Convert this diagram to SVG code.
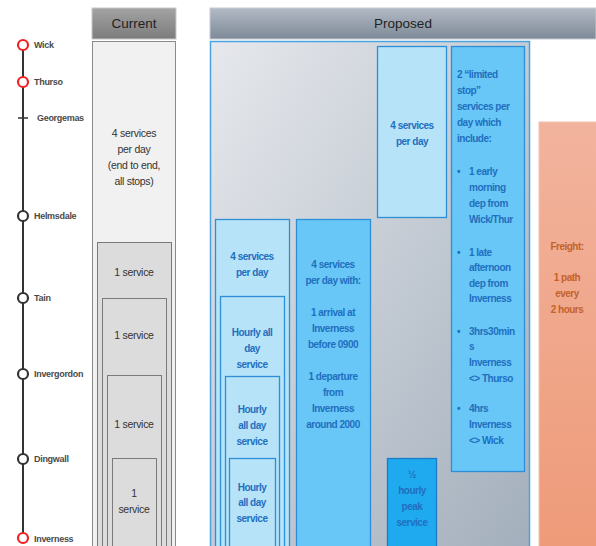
<svg xmlns="http://www.w3.org/2000/svg" width="596" height="546" viewBox="0 0 596 546">
<defs>
<linearGradient id="hdrCur" x1="0" y1="0" x2="0" y2="1"><stop offset="0" stop-color="#a3a3a3"/><stop offset="1" stop-color="#7c7c7c"/></linearGradient>
<linearGradient id="hdrProp" x1="0" y1="0" x2="0" y2="1"><stop offset="0" stop-color="#b2bac4"/><stop offset="1" stop-color="#7e8a98"/></linearGradient>
<linearGradient id="propBg" x1="0" y1="0" x2="1" y2="1"><stop offset="0" stop-color="#e6e8ec"/><stop offset="1" stop-color="#a3afbc"/></linearGradient>
<linearGradient id="freight" x1="0" y1="0" x2="0" y2="1"><stop offset="0" stop-color="#f2b39d"/><stop offset="1" stop-color="#ee9b79"/></linearGradient>
<style>
.st{font-family:"Liberation Sans",Arial,sans-serif;font-size:9px;font-weight:bold;fill:#4a4a4a;letter-spacing:-0.3px}
.hd{font-family:"Liberation Sans",Arial,sans-serif;font-size:13.5px;fill:#222;text-anchor:middle}
.ct{font-family:"Liberation Sans",Arial,sans-serif;font-size:10.5px;fill:#333;text-anchor:middle;letter-spacing:-0.3px}
.bt{font-family:"Liberation Sans",Arial,sans-serif;font-size:10px;font-weight:bold;fill:#1f6fbf;text-anchor:middle;letter-spacing:-0.5px}
.bl{font-family:"Liberation Sans",Arial,sans-serif;font-size:10px;font-weight:bold;fill:#1f6fbf;letter-spacing:-0.5px}
.ft{font-family:"Liberation Sans",Arial,sans-serif;font-size:10px;font-weight:bold;fill:#c4622c;text-anchor:middle;letter-spacing:-0.5px}
.cbox{fill:#dcdcdc;stroke:#7a7a7a;stroke-width:1}
.lb{fill:#b6e3f8;stroke:#2f8fd6;stroke-width:1.3}
.mb{fill:#68c7f6;stroke:#2f8fd6;stroke-width:1.3}
.red{fill:#fff;stroke:#ee2222;stroke-width:2.2}
.blk{fill:#fff;stroke:#333;stroke-width:2.2}
</style>
</defs>
<rect width="596" height="546" fill="#fff"/>

<g id="line">
<line x1="23" y1="45" x2="23" y2="540" stroke="#333" stroke-width="2"/>
</g>
<g id="stations">
<g id="wick"><circle cx="23" cy="45" r="5" class="red"/><text x="34" y="48" class="st">Wick</text></g>
<g id="thurso"><circle cx="23" cy="82" r="5" class="red"/><text x="34" y="85" class="st">Thurso</text></g>
<g id="georgemas"><line x1="18" y1="118" x2="28" y2="118" stroke="#333" stroke-width="1.5"/><text x="37" y="121" class="st">Georgemas</text></g>
<g id="helmsdale"><circle cx="23" cy="216" r="5" class="blk"/><text x="34" y="219" class="st">Helmsdale</text></g>
<g id="tain"><circle cx="23" cy="298" r="5" class="blk"/><text x="34" y="301" class="st">Tain</text></g>
<g id="invergordon"><circle cx="23" cy="374" r="5" class="blk"/><text x="34" y="377" class="st">Invergordon</text></g>
<g id="dingwall"><circle cx="23" cy="459" r="5" class="blk"/><text x="34" y="462" class="st">Dingwall</text></g>
<g id="inverness"><circle cx="23" cy="538" r="5" class="red"/><text x="34" y="542" class="st">Inverness</text></g>
</g>

<g id="current-header"><rect x="92" y="8" width="84" height="31" fill="url(#hdrCur)" stroke="#c8c8c8" stroke-width="1"/><text x="134" y="28" class="hd">Current</text></g>
<g id="current-all"><rect x="92.5" y="41.5" width="83" height="506" fill="#f1f1f1" stroke="#8a8a8a" stroke-width="1"/>
<text class="ct" x="134" y="137">4 services</text><text class="ct" x="134" y="153">per day</text><text class="ct" x="134" y="169">(end to end,</text><text class="ct" x="134" y="185">all stops)</text></g>
<g id="current-1"><rect x="97.5" y="242.5" width="74" height="305" class="cbox"/><text class="ct" x="134" y="276">1 service</text></g>
<g id="current-2"><rect x="102.5" y="298.5" width="64" height="249" class="cbox"/><text class="ct" x="134" y="339">1 service</text></g>
<g id="current-3"><rect x="107.5" y="375.5" width="54" height="172" class="cbox"/><text class="ct" x="134" y="428">1 service</text></g>
<g id="current-4"><rect x="112.5" y="458.5" width="44" height="89" class="cbox"/><text class="ct" x="134" y="497">1</text><text class="ct" x="134" y="513">service</text></g>

<g id="proposed-header"><rect x="210" y="8" width="386" height="31" fill="url(#hdrProp)" stroke="#c4ccd4" stroke-width="1"/><text x="403" y="28" class="hd">Proposed</text></g>
<g id="proposed-area"><rect x="210.5" y="41.5" width="319" height="506" fill="url(#propBg)" stroke="#4aa3df" stroke-width="1.5"/></g>

<g id="p-4pd-top"><rect x="377.5" y="46.5" width="69" height="171" class="lb"/><text class="bt" x="412" y="129">4 services</text><text class="bt" x="412" y="145">per day</text></g>

<g id="p-limited"><rect x="451.5" y="46.5" width="73" height="425" class="mb"/>
<text class="bl" x="457" y="78">2 “limited</text><text class="bl" x="457" y="94">stop”</text><text class="bl" x="457" y="110">services per</text><text class="bl" x="457" y="126">day which</text><text class="bl" x="457" y="142">include:</text>
<text class="bl" x="457" y="175">•</text><text class="bl" x="469" y="175">1 early</text><text class="bl" x="469" y="191">morning</text><text class="bl" x="469" y="207">dep from</text><text class="bl" x="469" y="223">Wick/Thur</text>
<text class="bl" x="457" y="256">•</text><text class="bl" x="469" y="256">1 late</text><text class="bl" x="469" y="271">afternoon</text><text class="bl" x="469" y="287">dep from</text><text class="bl" x="469" y="302">Inverness</text>
<text class="bl" x="457" y="335">•</text><text class="bl" x="469" y="335">3hrs30min</text><text class="bl" x="469" y="350">s</text><text class="bl" x="469" y="366">Inverness</text><text class="bl" x="469" y="382">&lt;&gt; Thurso</text>
<text class="bl" x="457" y="412">•</text><text class="bl" x="469" y="412">4hrs</text><text class="bl" x="469" y="428">Inverness</text><text class="bl" x="469" y="444">&lt;&gt; Wick</text>
</g>

<g id="p-4pd-left"><rect x="215.5" y="219.5" width="74" height="328" class="lb"/><text class="bt" x="252" y="260">4 services</text><text class="bt" x="252" y="276">per day</text></g>
<g id="p-hourly-1"><rect x="220.5" y="296.5" width="64" height="251" class="lb"/><text class="bt" x="252" y="336">Hourly all</text><text class="bt" x="252" y="352">day</text><text class="bt" x="252" y="368">service</text></g>
<g id="p-hourly-2"><rect x="225.5" y="376.5" width="54" height="171" class="lb"/><text class="bt" x="252" y="413">Hourly</text><text class="bt" x="252" y="429">all day</text><text class="bt" x="252" y="445">service</text></g>
<g id="p-hourly-3"><rect x="229.5" y="458.5" width="46" height="89" class="lb"/><text class="bt" x="252" y="491">Hourly</text><text class="bt" x="252" y="506">all day</text><text class="bt" x="252" y="522">service</text></g>

<g id="p-4pd-with"><rect x="296.5" y="219.5" width="74" height="328" class="mb"/>
<text class="bt" x="333" y="268">4 services</text><text class="bt" x="333" y="284">per day with:</text>
<text class="bt" x="333" y="316">1 arrival at</text><text class="bt" x="333" y="332">Inverness</text><text class="bt" x="333" y="348">before 0900</text>
<text class="bt" x="333" y="380">1 departure</text><text class="bt" x="333" y="396">from</text><text class="bt" x="333" y="412">Inverness</text><text class="bt" x="333" y="428">around 2000</text></g>

<g id="p-half-hourly"><rect x="387.5" y="458.5" width="49" height="89" fill="#1faaf0" stroke="#1a7cc8" stroke-width="1.3"/>
<text class="bt" x="412" y="478">½</text><text class="bt" x="412" y="494">hourly</text><text class="bt" x="412" y="510">peak</text><text class="bt" x="412" y="526">service</text></g>

<g id="freight-box"><rect x="539" y="122" width="58" height="425" fill="url(#freight)" stroke="#f4c2ae" stroke-width="1"/>
<text class="ft" x="567" y="250">Freight:</text><text class="ft" x="567" y="281">1 path</text><text class="ft" x="567" y="297">every</text><text class="ft" x="567" y="313">2 hours</text></g>
</svg>
